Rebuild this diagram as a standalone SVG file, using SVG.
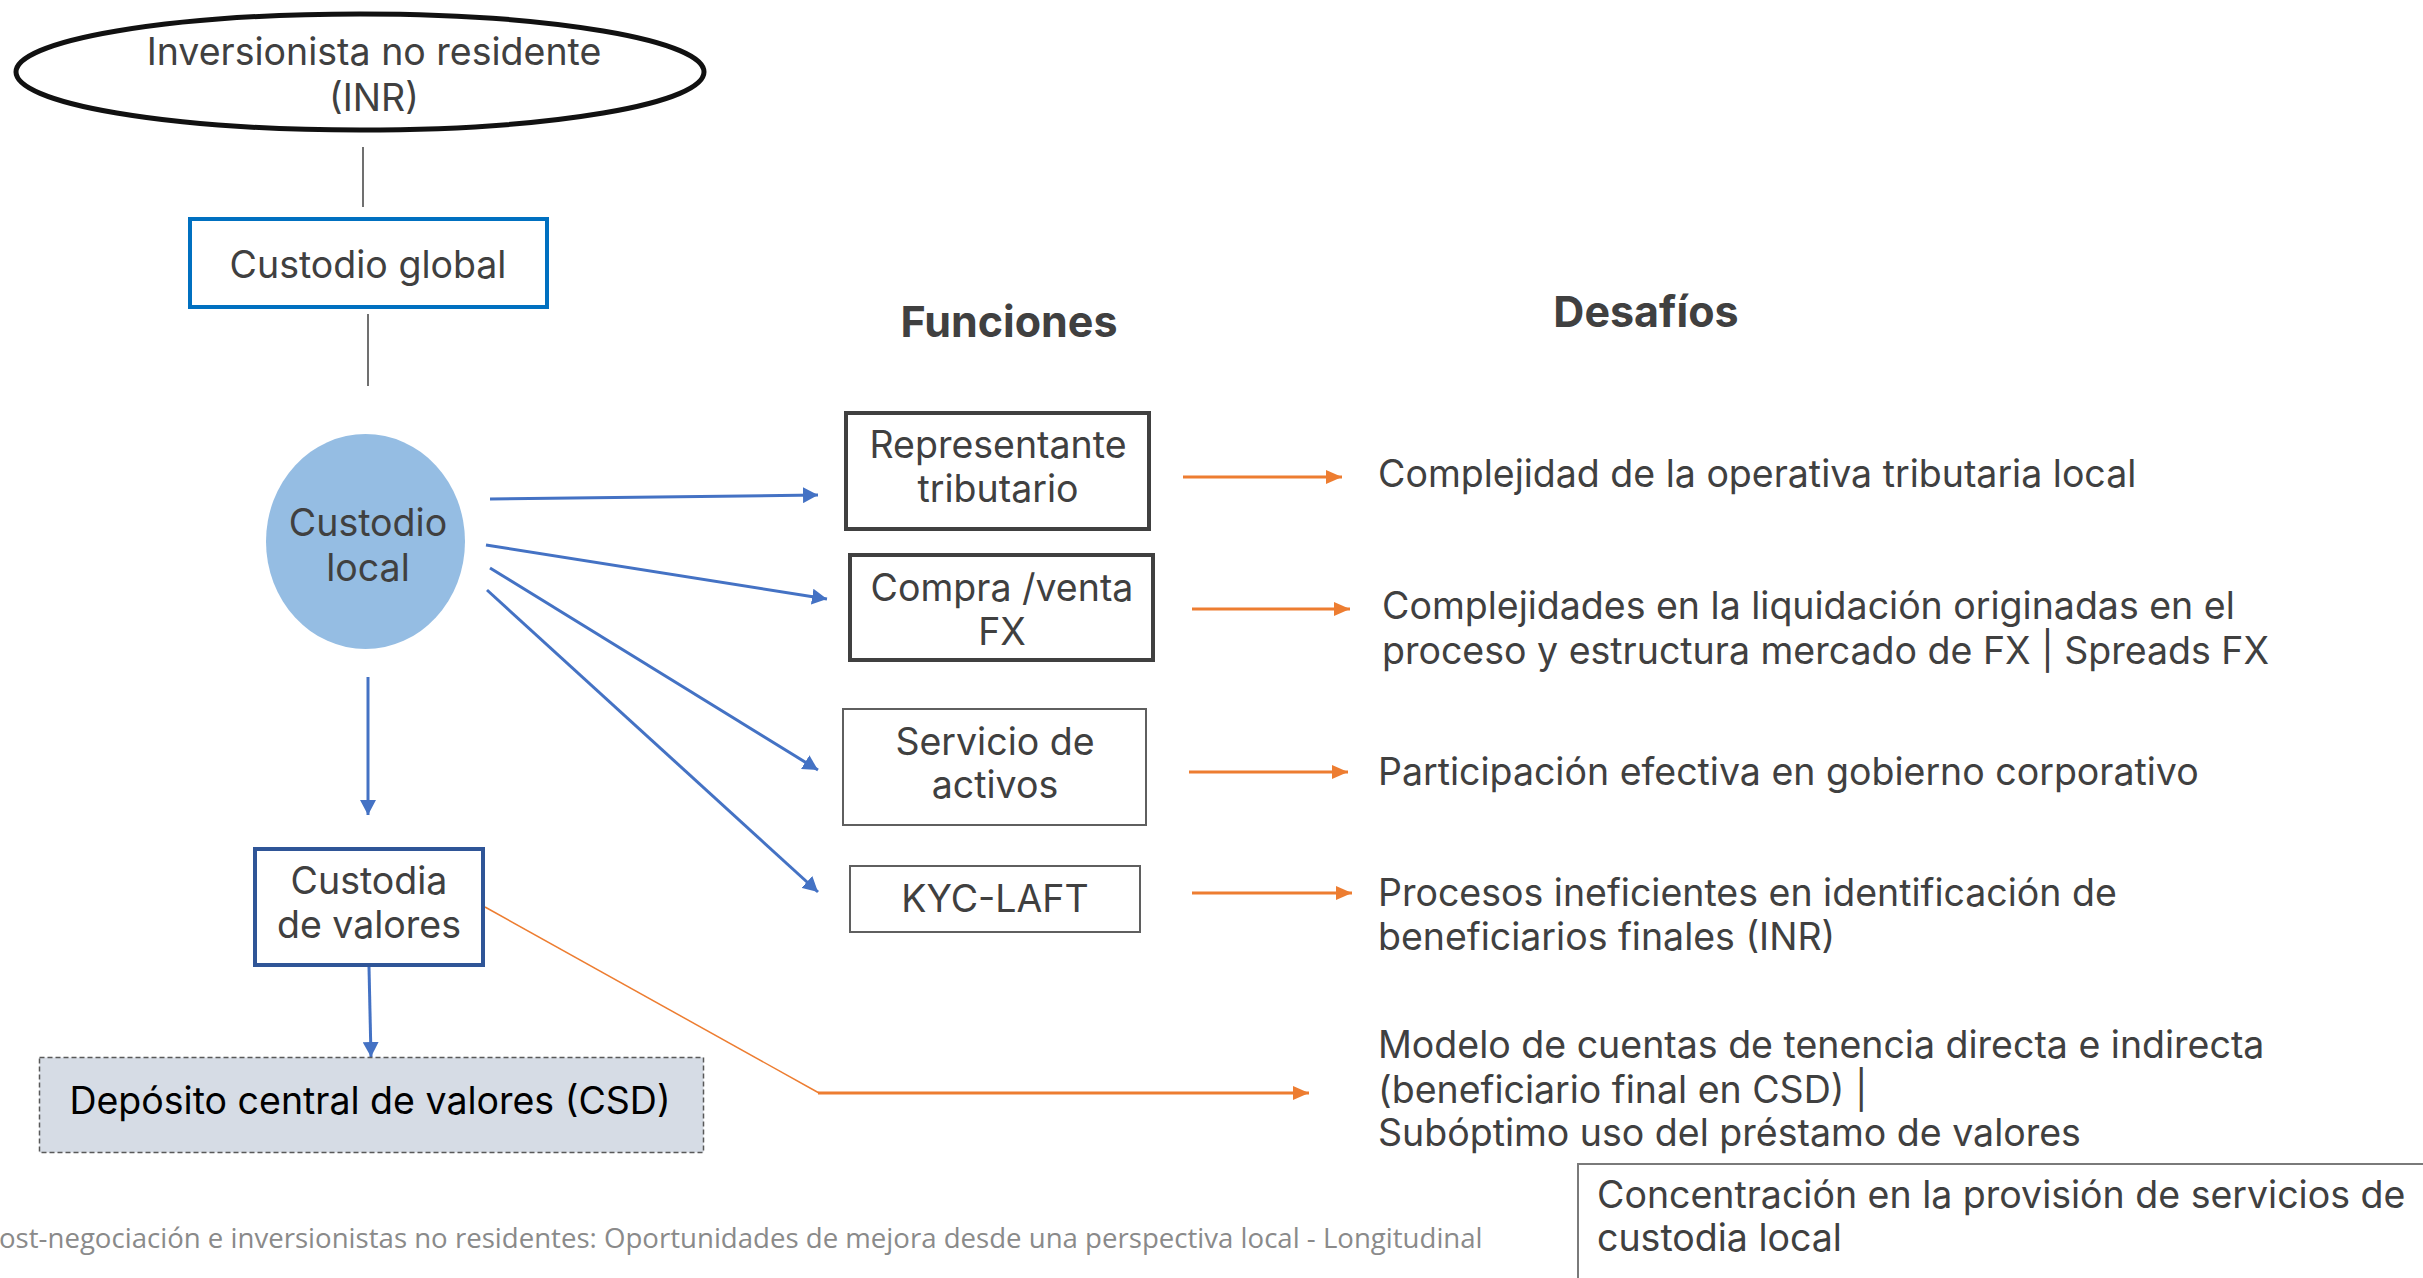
<svg xmlns="http://www.w3.org/2000/svg" width="2423" height="1278" viewBox="0 0 2423 1278">
  <style>
    .t { font-family: Inter, "Liberation Sans", sans-serif; font-size: 37.5px; fill: #404040; }
    .c { text-anchor: middle; }
    .h { font-family: Inter, "Liberation Sans", sans-serif; font-size: 43px; font-weight: bold; fill: #404040; text-anchor: middle; }
    .foot { font-family: "Open Sans", "Liberation Sans", sans-serif; font-size: 27.6px; fill: #8a8a8a; }
    .blue { stroke: #4472C4; stroke-width: 3; fill: none; }
    .orange { stroke: #ED7D31; stroke-width: 3; fill: none; }
    .thin { stroke: #404040; stroke-width: 1.5; fill: none; }
    .fbox { fill: #ffffff; stroke: #404040; stroke-width: 4; }
    .fbox2 { fill: #ffffff; stroke: #5f5f5f; stroke-width: 2; }
  </style>
  <defs>
    <marker id="arrBlue" markerUnits="userSpaceOnUse" markerWidth="16" markerHeight="16" refX="15" refY="8" orient="auto">
      <path d="M0,0 L15,8 L0,16 z" fill="#4472C4"/>
    </marker>
    <marker id="arrOrange" markerUnits="userSpaceOnUse" markerWidth="16" markerHeight="14" refX="16" refY="7" orient="auto">
      <path d="M0,0 L16,7 L0,14 z" fill="#ED7D31"/>
    </marker>
  </defs>

  <rect x="0" y="0" width="2423" height="1278" fill="#ffffff"/>

  <!-- connectors -->
  <g id="connectors">
    <line class="thin" x1="363" y1="147" x2="363" y2="207"/>
    <line class="thin" x1="368" y1="314" x2="368" y2="386"/>
    <line class="blue" x1="368" y1="677" x2="368" y2="815" marker-end="url(#arrBlue)"/>
    <line class="blue" x1="369" y1="967" x2="371" y2="1057" marker-end="url(#arrBlue)"/>
    <line class="blue" x1="490" y1="499" x2="818" y2="495" marker-end="url(#arrBlue)"/>
    <line class="blue" x1="486" y1="545" x2="827" y2="599" marker-end="url(#arrBlue)"/>
    <line class="blue" x1="490" y1="568" x2="818" y2="770" marker-end="url(#arrBlue)"/>
    <line class="blue" x1="487" y1="590" x2="818" y2="892" marker-end="url(#arrBlue)"/>
    <line class="orange" x1="1183" y1="477" x2="1342" y2="477" marker-end="url(#arrOrange)"/>
    <line class="orange" x1="1192" y1="609" x2="1350" y2="609" marker-end="url(#arrOrange)"/>
    <line class="orange" x1="1189" y1="772" x2="1348" y2="772" marker-end="url(#arrOrange)"/>
    <line class="orange" x1="1192" y1="893" x2="1352" y2="893" marker-end="url(#arrOrange)"/>
    <line x1="485" y1="907" x2="819" y2="1093" stroke="#ED7D31" stroke-width="1.5"/>
    <line class="orange" x1="818" y1="1093" x2="1309" y2="1093" marker-end="url(#arrOrange)"/>
  </g>

  <!-- left column -->
  <g id="inr">
    <ellipse cx="360" cy="72" rx="344" ry="58" fill="#ffffff" stroke="#111111" stroke-width="5"/>
    <text class="t c" x="374" y="65">Inversionista no residente</text>
    <text class="t c" x="374" y="111">(INR)</text>
  </g>
  <g id="custodio-global">
    <rect x="190" y="219" width="357" height="88" fill="#ffffff" stroke="#0070C0" stroke-width="4"/>
    <text class="t c" x="368" y="278">Custodio global</text>
  </g>
  <g id="custodio-local">
    <ellipse cx="365.5" cy="541.5" rx="99.5" ry="107.5" fill="#95BDE3"/>
    <text class="t c" x="368" y="536">Custodio</text>
    <text class="t c" x="368" y="581">local</text>
  </g>
  <g id="custodia-valores">
    <rect x="255" y="849" width="228" height="116" fill="#ffffff" stroke="#2F5597" stroke-width="4"/>
    <text class="t c" x="369" y="894">Custodia</text>
    <text class="t c" x="369" y="938">de valores</text>
  </g>
  <g id="csd">
    <rect x="39.5" y="1057.5" width="664" height="95" fill="#D6DCE5" stroke="#595959" stroke-width="1.5" stroke-dasharray="5 3"/>
    <text class="t c" x="370" y="1114" style="fill:#000000">Depósito central de valores (CSD)</text>
  </g>

  <!-- column headers -->
  <text class="h" x="1009" y="337">Funciones</text>
  <text class="h" x="1646" y="327">Desafíos</text>

  <!-- functions -->
  <g id="f-representante">
    <rect class="fbox" x="846" y="413" width="303" height="116"/>
    <text class="t c" x="998" y="458">Representante</text>
    <text class="t c" x="998" y="502">tributario</text>
  </g>
  <g id="f-fx">
    <rect class="fbox" x="850" y="555" width="303" height="105"/>
    <text class="t c" x="1002" y="601">Compra /venta</text>
    <text class="t c" x="1002" y="645">FX</text>
  </g>
  <g id="f-servicio">
    <rect class="fbox2" x="843" y="709" width="303" height="116"/>
    <text class="t c" x="995" y="755">Servicio de</text>
    <text class="t c" x="995" y="798">activos</text>
  </g>
  <g id="f-kyc">
    <rect class="fbox2" x="850" y="866" width="290" height="66"/>
    <text class="t c" x="995" y="912">KYC-LAFT</text>
  </g>

  <!-- challenges -->
  <g id="d-tributaria">
    <text class="t" x="1378" y="487">Complejidad de la operativa tributaria local</text>
  </g>
  <g id="d-fx">
    <text class="t" x="1382" y="619">Complejidades en la liquidación originadas en el</text>
    <text class="t" x="1382" y="664">proceso y estructura mercado de FX | Spreads FX</text>
  </g>
  <g id="d-gobierno">
    <text class="t" x="1378" y="785">Participación efectiva en gobierno corporativo</text>
  </g>
  <g id="d-beneficiarios">
    <text class="t" x="1378" y="906">Procesos ineficientes en identificación de</text>
    <text class="t" x="1378" y="950">beneficiarios finales (INR)</text>
  </g>
  <g id="d-cuentas">
    <text class="t" x="1378" y="1058">Modelo de cuentas de tenencia directa e indirecta</text>
    <text class="t" x="1378" y="1103">(beneficiario final en CSD) |</text>
    <text class="t" x="1378" y="1146">Subóptimo uso del préstamo de valores</text>
  </g>
  <g id="d-concentracion">
    <rect x="1578" y="1164" width="860" height="130" fill="#ffffff" stroke="#7a7a7a" stroke-width="2"/>
    <text class="t" x="1597" y="1208">Concentración en la provisión de servicios de</text>
    <text class="t" x="1597" y="1251">custodia local</text>
  </g>

  <!-- footer -->
  <text class="foot" x="-1" y="1248">ost-negociación e inversionistas no residentes: Oportunidades de mejora desde una perspectiva local - Longitudinal</text>
</svg>
